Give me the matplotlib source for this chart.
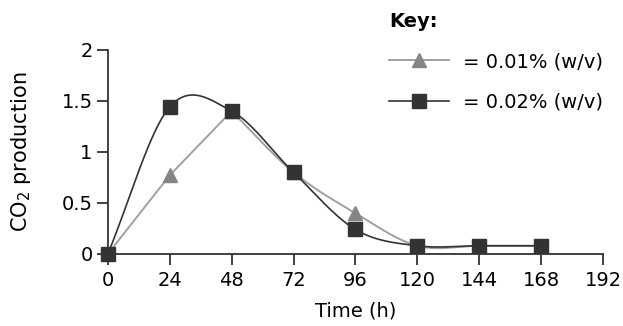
import numpy as np
import matplotlib
matplotlib.use("Agg")
import matplotlib.pyplot as plt

# Data
time_h = [0, 24, 48, 72, 96, 120, 144, 168]
co2_low = [0, 0.77, 1.40, 0.80, 0.40, 0.08, 0.08, 0.08]    # 0.01% (w/v)
co2_high = [0, 1.44, 1.40, 0.80, 0.24, 0.08, 0.08, 0.08]   # 0.02% (w/v)

x_ticks = [0, 24, 48, 72, 96, 120, 144, 168, 192]
y_ticks = [0, 0.5, 1, 1.5, 2]
y_tick_labels = ["0", "0.5", "1", "1.5", "2"]


def smooth(x, y, n=40):
    # Catmull-Rom style cubic Hermite curve through the points
    x = np.asarray(x, float)
    y = np.asarray(y, float)
    m = np.gradient(y, x)
    xs, ys = [], []
    for i in range(len(x) - 1):
        h = x[i + 1] - x[i]
        t = np.linspace(0, 1, n)
        h00 = 2 * t**3 - 3 * t**2 + 1
        h10 = t**3 - 2 * t**2 + t
        h01 = -2 * t**3 + 3 * t**2
        h11 = t**3 - t**2
        xs.append(x[i] + t * h)
        ys.append(h00 * y[i] + h10 * h * m[i] + h01 * y[i + 1] + h11 * h * m[i + 1])
    return np.concatenate(xs), np.concatenate(ys)


plt.rcParams["font.family"] = ["DejaVu Sans"]
plt.rcParams["font.size"] = 14

fig = plt.figure(figsize=(6.23, 3.26), dpi=100)
ax = fig.add_axes([0.173, 0.221, 0.795, 0.626])

grey = "#a0a0a0"
dark = "#333333"

# 0.01% line: straight up to 48 h, smooth afterwards
sx, sy = smooth(time_h[2:], co2_low[2:])
ax.plot(time_h[:3], co2_low[:3], color=grey, lw=1.4, zorder=2)
ax.plot(sx, sy, color=grey, lw=1.4, zorder=2)
ax.plot(time_h, co2_low, ls="none", marker="^", ms=10, color="#858585", zorder=3)
ax.plot([], [], color=grey, lw=1.4, marker="^", ms=10, mfc="#858585", mec="#858585",
        label="= 0.01% (w/v)")

sx, sy = smooth(time_h, co2_high)
ax.plot(sx, sy, color=dark, lw=1.2, zorder=4)
ax.plot(time_h, co2_high, ls="none", marker="s", ms=10, color=dark, zorder=5, clip_on=False)
ax.plot([], [], color=dark, lw=1.2, marker="s", ms=10, label="= 0.02% (w/v)")

ax.set_xlim(0, 192)
ax.set_ylim(0, 2)
ax.set_xticks(x_ticks)
ax.set_yticks(y_ticks)
ax.set_yticklabels(y_tick_labels)

for side in ["top", "right"]:
    ax.spines[side].set_visible(False)
for side in ["left", "bottom"]:
    ax.spines[side].set_color(dark)
    ax.spines[side].set_linewidth(1.3)
ax.tick_params(direction="out", length=8, width=1.3, color=dark, labelsize=14)
ax.tick_params(axis="y", pad=3)
ax.tick_params(axis="x", pad=4)

ax.set_xlabel("Time (h)", fontsize=14)
ax.xaxis.set_label_coords(0.5, -0.235)
ax.set_ylabel("CO$_2$ production", fontsize=15)
ax.yaxis.set_label_coords(-0.15, 0.5)

leg = ax.legend(title="Key:", loc="upper left", bbox_to_anchor=(0.596, 1.018),
                bbox_transform=fig.transFigure, frameon=False, alignment="left",
                handlelength=3.1, handletextpad=0.7, labelspacing=1.1, fontsize=14,
                title_fontproperties={"weight": "bold", "size": 14})

fig.savefig("out.png", dpi=100)
